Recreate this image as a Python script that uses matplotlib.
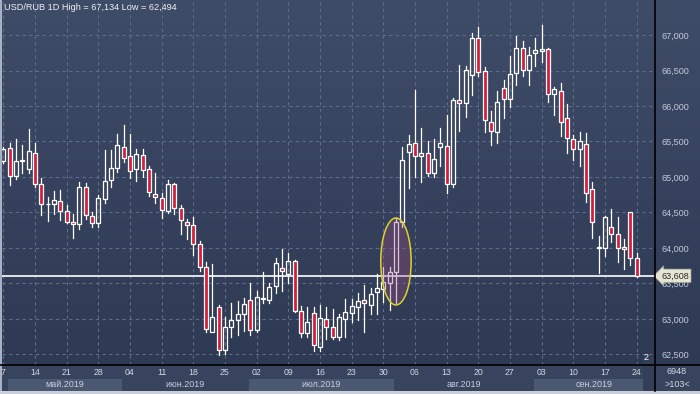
import numpy as np
import pandas as pd
import matplotlib
matplotlib.use('Agg')
import matplotlib.pyplot as plt
import matplotlib.transforms as mtransforms
from matplotlib.patches import Rectangle, Ellipse
from matplotlib.lines import Line2D
from matplotlib.colors import LinearSegmentedColormap

# daily USD/RUB candles
dates = pd.bdate_range('2019-05-07', '2019-09-24')
opens = [65230, 65404, 65018, 65225, 65117, 65334, 64897, 64615, 64615, 64662,
         64521, 64362, 64334, 64863, 64455, 64348, 64690, 64958, 65123, 65427,
         65296, 65108, 65306, 65108, 64756, 64700, 64526, 64897, 64559, 64370,
         64320, 64052, 63728, 62812, 63174, 62563, 62883, 62986, 63066, 63268,
         62845, 63280, 63273, 63469, 63714, 63629, 63817, 63118, 62808, 63090,
         62611, 62995, 62883, 62751, 62995, 63090, 63174, 63263, 63197, 63385,
         63422, 63511, 63667, 64370, 65357, 65479, 65296, 65334, 65052, 65427,
         65442, 64897, 66085, 66038, 66437, 66953, 66498, 65779, 65630, 66249,
         66094, 66461, 66817, 66507, 66746, 66770, 66803, 66165, 66211, 65827,
         65531, 65390, 65461, 64827, 64000, 64005, 64291, 64193, 64010, 64512,
         63855]
highs = [65420, 65474, 65531, 65451, 65676, 65474, 64990, 64714, 64803, 64817,
         64606, 64479, 64925, 64911, 64512, 64747, 65380, 65380, 65601, 65732,
         65606, 65390, 65390, 65155, 65052, 64770, 64958, 64911, 64606, 64408,
         64441, 64103, 63798, 63775, 63197, 63033, 63221, 63259, 63291, 63511,
         63394, 63666, 63502, 63855, 63981, 63934, 63831, 63183, 63174, 63165,
         63197, 63174, 63137, 63071, 63282, 63278, 63362, 63479, 63432, 63634,
         63728, 63728, 64418, 65428, 65592, 66225, 65686, 65507, 65535, 65686,
         65873, 66108, 66578, 66563, 67023, 67110, 66545, 65934, 66211, 66366,
         66704, 66990, 66911, 66827, 66958, 67134, 66812, 66272, 66320, 66028,
         65592, 65629, 65615, 64925, 64169, 64455, 64549, 64432, 64122, 64512,
         63925]
lows = [65200, 64887, 64968, 65052, 65052, 64863, 64465, 64385, 64479, 64394,
        64348, 64137, 64263, 64404, 64300, 64300, 64630, 64863, 65075, 65215,
        64981, 64948, 65004, 64737, 64630, 64427, 64498, 64479, 64197, 64123,
        63901, 63680, 62821, 62812, 62494, 62510, 62742, 62775, 62835, 62770,
        62821, 63221, 63226, 63371, 63399, 63502, 63104, 62751, 62751, 62554,
        62554, 62714, 62714, 62704, 62751, 62962, 62986, 62821, 63066, 63071,
        63244, 63127, 63230, 64300, 64841, 64996, 64934, 65018, 65004, 65160,
        64779, 64863, 65652, 65849, 66155, 66423, 65630, 65451, 65474, 65836,
        65981, 66296, 66423, 66296, 66568, 66624, 66061, 65873, 65577, 65342,
        65239, 65160, 64652, 64145, 63652, 63887, 64089, 63807, 63700, 63760,
        63596]
closes = [65390, 65018, 65225, 65240, 65366, 64897, 64615, 64620, 64676, 64521,
          64362, 64334, 64863, 64465, 64348, 64700, 64944, 65123, 65451, 65272,
          65084, 65320, 65094, 64784, 64714, 64535, 64897, 64559, 64394, 64324,
          64052, 63728, 62855, 63033, 62563, 62883, 62986, 63066, 63207, 62845,
          63305, 63294, 63455, 63793, 63676, 63817, 63118, 62808, 62962, 62634,
          63010, 62883, 62751, 63024, 63094, 63183, 63254, 63221, 63348, 63432,
          63517, 63667, 64370, 65239, 65465, 65296, 65334, 65052, 65249, 65474,
          64897, 66085, 66038, 66507, 66953, 66484, 65803, 65648, 66052, 66094,
          66451, 66817, 66507, 66718, 66789, 66803, 66165, 66235, 65770, 65545,
          65390, 65507, 64779, 64370, 64010, 64441, 64193, 64005, 63981, 63855,
          63608]
last_price = 63608
y_ticks = [62500, 63000, 63500, 64000, 64500, 65000, 65500, 66000, 66500, 67000]
month_names = ['май.2019', 'июн.2019', 'июл.2019', 'авг.2019', 'сен.2019']
title = 'USD/RUB 1D High = 67,134 Low = 62,494'

plt.rcParams['font.family'] = ['Liberation Sans', 'DejaVu Sans']

W, H = 700, 394
fig = plt.figure(figsize=(W / 100, H / 100), dpi=100)

# dark blue gradient behind everything
bg = fig.add_axes([0, 0, 1, 1], zorder=-5)
cmap = LinearSegmentedColormap.from_list('bg', ['#2d3852', '#3f4c68'])
bg.imshow(np.linspace(0, 1, 256).reshape(-1, 1), aspect='auto', cmap=cmap,
          extent=[0, 1, 0, 1], origin='lower')
bg.set_xlim(0, 1)
bg.set_ylim(0, 1)
bg.axis('off')

def px(x, y, w, h, **kw):
    # rectangle in pixel units, y measured from the top
    bg.add_patch(Rectangle((x / W, 1 - (y + h) / H), w / W, h / H, lw=0, **kw))

px(0, 365, 700, 26, color='#38445e')
px(0, 0, 2, 394, color='#a8b2c2')
px(0, 391, 700, 3, color='#c9d0da')

ax = fig.add_axes([2 / W, 29 / H, 653 / W, 365 / H])
ax.set_facecolor('none')
ax.set_xlim(-0.2, 102.9)
ax.set_ylim(62352, 67493)

n = len(dates)
for i in range(n):
    o, h, l, c = opens[i], highs[i], lows[i], closes[i]
    up = c >= o
    top, bot = max(o, c), min(o, c)
    ax.plot([i, i], [top, h], color='white', lw=0.9, zorder=4)
    ax.plot([i, i], [l, bot], color='white', lw=0.9, zorder=4)
    ax.add_patch(Rectangle((i - 0.32, bot), 0.64, max(top - bot, 10),
                           facecolor='none' if up else '#d51d3a',
                           edgecolor='white', lw=0.9, zorder=5))

ax.axhline(last_price, color='white', lw=1.2, zorder=3)
ax.add_patch(Ellipse((62, 63810), 4.8, 1225, facecolor=(0.62, 0.3, 0.5, 0.33),
                     edgecolor='#d9d52b', lw=1.1, zorder=6))

# axes, grid
tue = [i for i, d in enumerate(dates) if d.weekday() == 1]
tue_labels = [d.strftime('%d') for d in dates[tue]]
tue_labels[0] = '7'
ax.set_xticks(tue)
ax.set_xticklabels(tue_labels)
ax.set_yticks(y_ticks)
ax.set_yticklabels([f'{v:,}' for v in y_ticks])
ax.yaxis.tick_right()
ax.grid(True, color='#5d6c8a', ls=(0, (3, 3)), lw=0.8, zorder=1)
ax.tick_params(axis='y', length=0, pad=5, labelsize=6.5, labelcolor='#c3cad8')
ax.tick_params(axis='x', length=0, pad=2.5, labelsize=6.3, labelcolor='#d0d6e2')
for s in ax.spines.values():
    s.set_visible(False)

fig.add_artist(Line2D([0, 1], [29 / H, 29 / H], color='black', lw=1.2))
fig.add_artist(Line2D([655 / W, 655 / W], [3 / H, 1], color='black', lw=1.2))

# month bands under the day numbers
blend = mtransforms.blended_transform_factory(ax.transData, fig.transFigure)
starts = [0] + [i for i in range(1, n) if dates[i].month != dates[i - 1].month]
edges = [0.75] + [s - 0.25 for s in starts[1:]] + [102.9]
for k, name in enumerate(month_names):
    x0, x1 = edges[k], edges[k + 1]
    if k % 2 == 0:
        ax.add_patch(Rectangle((x0, 3 / H), min(x1, 101.0) - x0, 12 / H,
                               transform=blend, clip_on=False,
                               facecolor='#4b5872', lw=0, zorder=0))
    ax.text((x0 + x1) / 2, 9.5 / H, name, transform=blend, ha='center',
            va='center', fontsize=6.5, color='#c8cfdc')

px(643, 357, 12, 34, color='#333e57')
fig.text(644 / W, 1 - 357 / H, '2', fontsize=6.5, color='white', va='center')
fig.text(677 / W, 1 - 372 / H, '6948', fontsize=6.5, color='#d0d6e2',
         ha='center', va='center')
fig.text(677 / W, 1 - 384.5 / H, '>103<', fontsize=6.5, color='#d0d6e2',
         ha='center', va='center')

# last price tag
yblend = mtransforms.blended_transform_factory(ax.transAxes, ax.transData)
ax.text(1 + 6 / 653, last_price, f'{last_price:,}', transform=yblend,
        ha='left', va='center', fontsize=6.5, color='#2a2a2a', zorder=10,
        bbox=dict(boxstyle='larrow,pad=0.25', fc='#e4e6d2', ec='#9a9a88', lw=0.5))

fig.text(4 / W, 1 - 7.5 / H, title, ha='left', va='center', fontsize=6.6,
         color='#eef0f4')

fig.savefig('out.png', dpi=100)
